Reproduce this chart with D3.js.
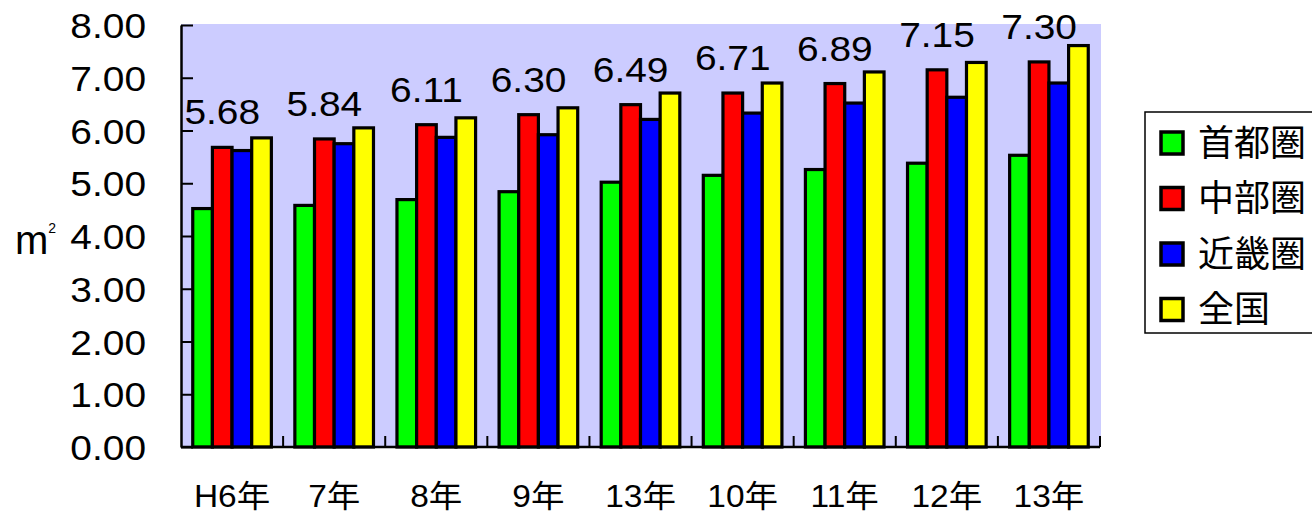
<!DOCTYPE html>
<html><head><meta charset="utf-8">
<script src="https://cdn.jsdelivr.net/npm/d3@7"></script>
<style>
html,body{margin:0;padding:0;background:#fff;}
text{font-family:"Liberation Sans",Arial,"Noto Sans CJK JP",sans-serif;fill:#000;}
</style></head>
<body>
<svg id="chart" width="1312" height="514"></svg>
<script>
const categories = ["H6年","7年","8年","9年","13年","10年","11年","12年","13年"];
const seriesNames = ["首都圏","中部圏","近畿圏","全国"];
const seriesColors = ["#00FF00","#FF0000","#0000FF","#FFFF00"];
const shutoken = [4.52,4.58,4.69,4.84,5.02,5.15,5.26,5.38,5.53];
const chubu    = [5.68,5.84,6.11,6.30,6.49,6.71,6.89,7.15,7.30];
const kinki    = [5.62,5.75,5.87,5.92,6.21,6.33,6.52,6.63,6.90];
const zenkoku  = [5.86,6.05,6.24,6.43,6.71,6.90,7.11,7.29,7.61];
const yTicks = [0,1,2,3,4,5,6,7,8];
const unitLabel = "m";

const series = [shutoken, chubu, kinki, zenkoku];
const svg = d3.select("#chart");
const L = 181, R = 1100, T = 25, B = 447;

const x0 = d3.scaleBand().domain(d3.range(categories.length)).range([L, R]).padding(0);
const bw = x0.bandwidth();
const x1 = d3.scaleBand().domain(d3.range(series.length)).range([bw*0.115, bw*0.885]).padding(0);
const y = d3.scaleLinear().domain([0, 8]).range([B, T]);

// plot background
svg.append("rect").attr("x", L).attr("y", T-1).attr("width", R-L+1).attr("height", B-T+1)
  .attr("fill", "#CCCCFF");

// bars
const g = svg.append("g");
categories.forEach((c, i) => {
  series.forEach((s, j) => {
    g.append("rect")
      .attr("x", x0(i) + x1(j))
      .attr("y", y(s[i]))
      .attr("width", x1.bandwidth())
      .attr("height", B - y(s[i]))
      .attr("fill", seriesColors[j])
      .attr("stroke", "#000").attr("stroke-width", 3.2);
  });
});

// data labels (中部圏 values)
categories.forEach((c, i) => {
  svg.append("text")
    .attr("transform", `translate(${x0(i) + x1(1) + x1.bandwidth()/2},${y(chubu[i]) - 23}) scale(1.08,1)`)
    .attr("text-anchor", "middle")
    .style("font-size", "36px")
    .text(d3.format(".2f")(chubu[i]));
});

// y axis
const yAxis = d3.axisLeft(y).tickValues(yTicks).tickFormat(d3.format(".2f"))
  .tickSizeInner(-12).tickSizeOuter(0).tickPadding(35);
const ya = svg.append("g").attr("transform", `translate(${L},0)`).call(yAxis);
ya.select(".domain").attr("stroke", "#000").attr("stroke-width", 2.5);
ya.selectAll(".tick line").attr("stroke", "#000").attr("stroke-width", 2);
ya.selectAll(".tick text").style("font-size", "36px")
  .attr("dy", "0.35em")
  .attr("transform", "scale(1.08,1)").attr("x", -35/1.08);

// x axis line & boundary ticks
svg.append("line").attr("x1", L).attr("x2", R).attr("y1", B).attr("y2", B)
  .attr("stroke", "#000").attr("stroke-width", 2.5);
const bounds = d3.range(1, categories.length + 1).map(i => x0(i - 1) + bw);
svg.selectAll(".xtick").data(bounds).enter().append("line")
  .attr("x1", d => d).attr("x2", d => d).attr("y1", B).attr("y2", B - 11)
  .attr("stroke", "#000").attr("stroke-width", 2);

// x labels
const xa = svg.append("g").attr("transform", `translate(0,${B})`)
  .call(d3.axisBottom(d3.scaleBand().domain(d3.range(categories.length)).range([L, R]))
    .tickFormat(i => categories[i]).tickSize(0).tickPadding(38));
xa.select(".domain").remove();
xa.selectAll(".tick text").style("font-size", "31px")
  .attr("transform", "scale(1.08,1)")
  .attr("font-family", "'Liberation Sans','Noto Sans CJK JP',sans-serif");

// unit label
const u = svg.append("text").attr("x", 15).attr("y", 254).style("font-size", "40px");
u.append("tspan").text(unitLabel);
u.append("tspan").attr("dy", -21).style("font-size", "14px").text("2");

// legend
const lg = svg.append("g");
lg.append("rect").attr("x", 1145).attr("y", 112).attr("width", 200).attr("height", 221)
  .attr("fill", "#fff").attr("stroke", "#000").attr("stroke-width", 1.5);
seriesNames.forEach((n, j) => {
  const cy = 143 + j * 55.5;
  lg.append("rect").attr("x", 1161).attr("y", cy - 11).attr("width", 22).attr("height", 22)
    .attr("fill", seriesColors[j]).attr("stroke", "#000").attr("stroke-width", 3.5);
  lg.append("text").attr("x", 1198).attr("y", cy).attr("dy", "0.36em")
    .style("font-size", "36px").style("font-family", "'Noto Sans CJK JP',sans-serif")
    .text(n);
});
</script>
</body></html>
